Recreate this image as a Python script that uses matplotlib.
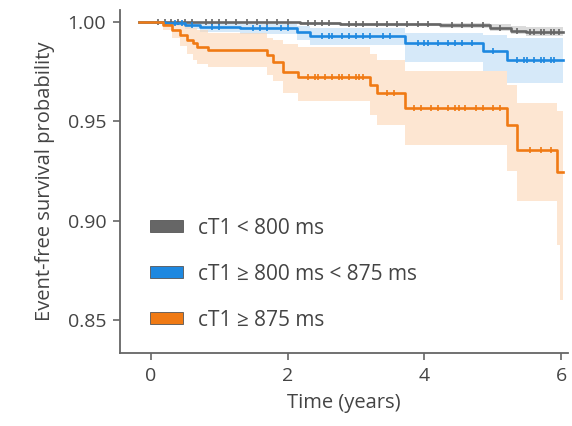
import numpy as np
import matplotlib
matplotlib.use("Agg")
import matplotlib.pyplot as plt
from matplotlib.patches import Patch

plt.rcParams['font.family'] = ['Open Sans', 'DejaVu Sans']

# Kaplan-Meier steps (time in years, survival)
gray_t = [-0.17, 0.72, 2.18, 2.77, 4.23, 4.96, 5.26, 5.48, 6.03]
gray_s = [1.0, 0.99975, 0.9992, 0.9987, 0.9982, 0.997, 0.9955, 0.995, 0.995]
gray_hi = [1.0, 1.0, 0.9998, 0.9996, 0.9993, 0.9987, 0.998, 0.9975, 0.9975]
gray_lo = [1.0, 0.9993, 0.9985, 0.9978, 0.997, 0.9955, 0.9937, 0.993, 0.993]
gray_cens = [0.1, 0.2, 0.3, 0.4, 0.5, 0.6, 0.8, 0.9, 1.0, 1.1, 1.25, 1.4, 1.55, 1.7,
             1.85, 2.0, 2.3, 2.4, 2.5, 2.6, 2.9, 3.0, 3.1, 3.3, 3.45, 3.6, 3.75, 3.9,
             4.05, 4.4, 4.55, 4.7, 4.85, 5.1, 5.35, 5.55, 5.6, 5.7, 5.75, 5.85, 5.9, 5.97]

blue_t = [-0.17, 0.20, 0.50, 0.72, 1.30, 2.14, 2.33, 3.72, 4.86, 5.21, 6.03]
blue_s = [1.0, 0.9992, 0.9985, 0.9975, 0.997, 0.995, 0.993, 0.9894, 0.9854, 0.9809, 0.9809]
blue_hi = [1.0, 1.0, 0.9998, 0.9993, 0.999, 0.998, 0.997, 0.9945, 0.9935, 0.992, 0.992]
blue_lo = [1.0, 0.998, 0.9965, 0.995, 0.994, 0.991, 0.9885, 0.980, 0.975, 0.969, 0.969]
blue_cens = [0.35, 0.45, 0.6, 0.9, 1.0, 1.5, 1.6, 1.7, 1.9, 2.0, 2.5, 2.6, 2.65, 2.8,
             2.9, 3.0, 3.1, 3.2, 3.4, 3.5, 3.9, 4.0, 4.05, 4.2, 4.35, 4.45, 4.55, 4.7,
             5.0, 5.35, 5.45, 5.5, 5.6, 5.7, 5.75, 5.85, 5.9]

orange_t = [-0.17, 0.18, 0.31, 0.42, 0.53, 0.61, 0.67, 0.83, 1.70, 1.79, 1.93,
            2.15, 3.21, 3.31, 3.72, 5.21, 5.36, 5.94, 5.99, 6.03]
orange_s = [1.0, 0.9985, 0.996, 0.9935, 0.991, 0.9894, 0.9874, 0.9859, 0.9834, 0.9799, 0.9748,
            0.9723, 0.9683, 0.9643, 0.9567, 0.9481, 0.9355, 0.9245, 0.9245, 0.9245]
orange_hi = [1.0, 1.0, 0.9995, 0.999, 0.998, 0.997, 0.996, 0.9945, 0.992, 0.991, 0.989,
             0.9874, 0.984, 0.981, 0.975, 0.968, 0.959, 0.955, 0.955, 0.955]
orange_lo = [1.0, 0.996, 0.992, 0.988, 0.984, 0.981, 0.979, 0.977, 0.973, 0.970, 0.964,
             0.960, 0.953, 0.948, 0.938, 0.925, 0.910, 0.888, 0.860, 0.860]
orange_cens = [2.3, 2.4, 2.45, 2.55, 2.65, 2.75, 2.8, 2.9, 3.0, 3.05, 3.1, 3.45, 3.55,
               3.85, 3.95, 4.1, 4.2, 4.35, 4.45, 4.5, 4.6, 4.75, 4.85, 5.0, 5.1, 5.55,
               5.7, 5.85]

groups = [
    ("cT1 < 800 ms", "#666666", "#c4c4c4", gray_t, gray_s, gray_hi, gray_lo, gray_cens),
    ("cT1 \u2265 800 ms < 875 ms", "#1e88e0", "#bcdbf6", blue_t, blue_s, blue_hi, blue_lo, blue_cens),
    ("cT1 \u2265 875 ms", "#f07a14", "#fcd6b4", orange_t, orange_s, orange_hi, orange_lo, orange_cens),
]

fig = plt.figure(figsize=(5.72, 4.26), dpi=100)
ax = fig.add_axes([0.21, 0.171, 0.783, 0.806])

handles = []
for label, col, light, t, s, hi, lo, cens in groups:
    ax.fill_between(t, lo, hi, step='post', color=light, alpha=0.6, linewidth=0)
    ax.step(t, s, where='post', color=col, linewidth=1.9)
    # censoring ticks sit on the step curve
    idx = np.searchsorted(t, cens, side='right') - 1
    ax.plot(cens, np.array(s)[idx], linestyle='none', marker='|', color=col,
            markersize=5, markeredgewidth=1.2)
    handles.append(Patch(facecolor=col, edgecolor='#555555', linewidth=0.6, label=label))

ax.set_xlim(-0.45, 6.1)
ax.set_ylim(0.8334, 1.006)
ax.set_xticks([0, 2, 4, 6])
ax.set_yticks([0.85, 0.90, 0.95, 1.00])
ax.set_yticklabels(["0.85", "0.90", "0.95", "1.00"])

for side in ['top', 'right']:
    ax.spines[side].set_visible(False)
for side in ['left', 'bottom']:
    ax.spines[side].set_color('#666666')
    ax.spines[side].set_linewidth(1.3)
ax.tick_params(direction='out', length=5, width=1.2, color='#666666',
               labelsize=14, labelcolor='#444444', pad=5)

ax.set_xlabel("Time (years)", fontsize=14.5, color='#444444', labelpad=6)
ax.set_ylabel("Event-free survival probability", fontsize=14.5, color='#444444', labelpad=9)

leg = ax.legend(handles=handles, loc='upper left', bbox_to_anchor=(0.067, 0.395),
                frameon=False, fontsize=15, borderpad=0, borderaxespad=0,
                handlelength=1.6, handleheight=0.55, handletextpad=0.7, labelspacing=1.2)
for txt in leg.get_texts():
    txt.set_color('#444444')

fig.savefig("out.png", dpi=100)
